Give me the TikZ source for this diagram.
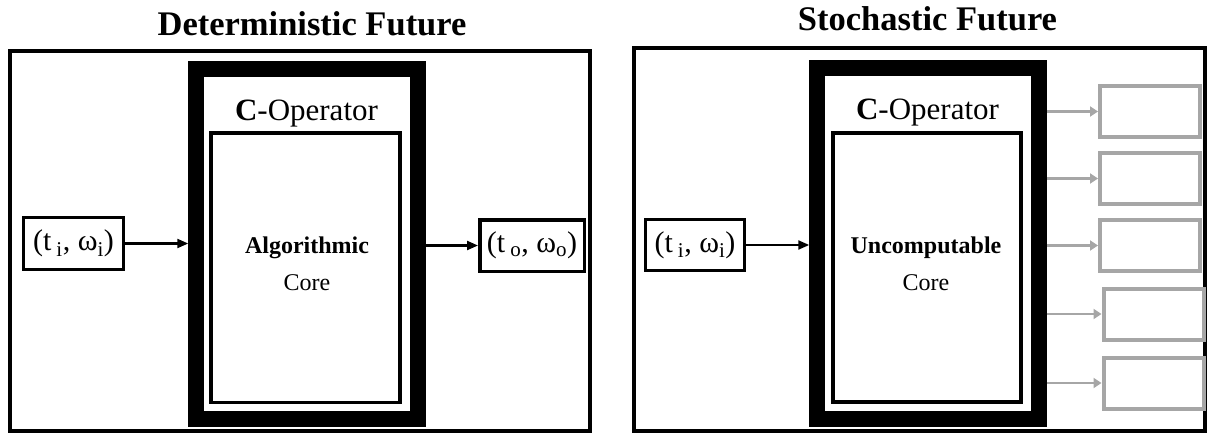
\documentclass[tikz,border=0pt]{standalone}
\usepackage{fontspec}
\setmainfont{Liberation Serif}
\usetikzlibrary{arrows.meta}
\definecolor{boxgray}{HTML}{A6A6A6}
\newcommand\fsTitle{\fontsize{34.5}{40}\selectfont\bfseries}
\newcommand\fsOp{\fontsize{31}{36}\selectfont}
\newcommand\fsCore{\fontsize{24}{28}\selectfont}
\newcommand\fsIO{\fontsize{30}{36}\selectfont}
\begin{document}
\begin{tikzpicture}[x=1pt,y=-1pt,
  panel/.style={draw, line width=4pt, inner sep=0pt, outer sep=2pt},
  thickbox/.style={draw, line width=15.5pt, inner sep=0pt, outer sep=7.75pt, minimum width=222pt, minimum height=350pt},
  corebox/.style={draw, line width=3.5pt, inner sep=0pt, outer sep=1.75pt},
  iobox/.style={draw, line width=3.5pt, inner sep=0pt, outer sep=1.75pt, font=\fsIO},
  graybox/.style={draw=boxgray, line width=4pt, inner sep=0pt, outer sep=2pt, minimum width=100pt, minimum height=51pt},
  blackarrow/.style={draw=black, line width=2.2pt, -{Triangle[length=11pt,width=9pt]}},
  grayarrow/.style={draw=boxgray, line width=2.5pt, -{Triangle[length=8pt,width=10pt]}},
  lbl/.style={anchor=base, inner sep=0pt}
]
\useasboundingbox (0,0) rectangle (1208,436);
% panels
\node[panel, minimum width=580pt, minimum height=379.5pt] (lpanel) at (300,241.25) {};
\node[panel, minimum width=571pt, minimum height=382.5pt] (rpanel) at (919.5,239.75) {};
% titles
\node[lbl, font=\fsTitle] (ltitle) at (312,36) {Deterministic Future};
\node[lbl, font=\fsTitle] (rtitle) at (927.5,31) {Stochastic Future};
% operators
\node[thickbox] (lop) at (307,244) {};
\node[thickbox, minimum height=351pt] (rop) at (928,243.5) {};
\node[corebox, minimum width=189pt, minimum height=269.5pt] (lcore) at (305.5,267.75) {};
\node[corebox, minimum width=188pt, minimum height=269pt] (rcore) at (927,267.5) {};
\node[lbl, font=\fsOp] (lopl) at (306.5,120) {\textbf{C}-Operator};
\node[lbl, font=\fsOp] (ropl) at (927.5,119) {\textbf{C}-Operator};
\node[lbl, font=\fsCore\bfseries] (lalg) at (307,253) {Algorithmic};
\node[lbl, font=\fsCore] (lcl) at (307,290) {Core};
\node[lbl, font=\fsCore\bfseries] (runc) at (926,253) {Uncomputable};
\node[lbl, font=\fsCore] (rcl) at (926,290) {Core};
% inputs / outputs
\node[iobox, minimum width=100pt, minimum height=52pt] (lin) at (73.5,243.5) {(t\,\textsubscript{i}, ω\textsubscript{i})};
\node[iobox, minimum width=99pt, minimum height=51pt] (rin) at (695,245) {(t\,\textsubscript{i}, ω\textsubscript{i})};
\node[iobox, minimum width=104.5pt, minimum height=51.5pt] (lout) at (532,245.5) {(t\,\textsubscript{o}, ω\textsubscript{o})};
% gray outcome boxes
\node[graybox] (g1) at (1150,111.5) {};
\node[graybox] (g2) at (1150,178.5) {};
\node[graybox] (g3) at (1150,245.5) {};
\node[graybox] (g4) at (1153.5,314) {};
\node[graybox] (g5) at (1153.5,383) {};
% arrows
\draw[blackarrow] (lin.east) -- (lin.east -| lop.west);
\draw[blackarrow] (lop.east |- lout.west) -- (lout.west);
\draw[blackarrow] (rin.east) -- (rin.east -| rop.west);
\foreach \g in {g1,g2,g3,g4,g5}
  \draw[grayarrow] (rop.east |- \g.west) -- (\g.west);
\end{tikzpicture}
\end{document}
